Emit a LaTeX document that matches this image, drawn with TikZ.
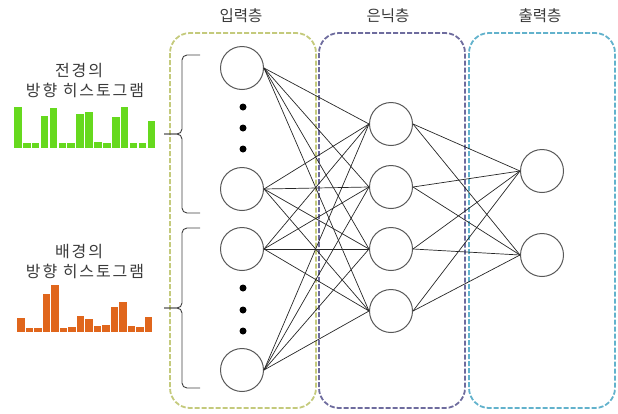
\documentclass[tikz,border=0pt]{standalone}
\usepackage{fontspec}
\newfontfamily\kor{Noto Sans CJK KR}
\newfontfamily\korwide[LetterSpace=12]{Noto Sans CJK KR}
\usetikzlibrary{positioning,calc}
\definecolor{inframe}{HTML}{C4CA7C}
\definecolor{hidframe}{HTML}{6E6C9E}
\definecolor{outframe}{HTML}{62B2CC}
\definecolor{fgbar}{HTML}{66D91E}
\definecolor{bgbar}{HTML}{E0661C}
\definecolor{labelgray}{HTML}{3A3A3A}

\begin{document}
\begin{tikzpicture}[x=1pt,y=-1pt] % pixel grid, y runs downwards
\tikzset{layerbox/.style={dash pattern=on 5pt off 2pt, line width=1.8pt, rounded corners=20pt}} % dashed layer frames
\tikzset{neuron/.style={circle, draw=black!65, fill=white, line width=1pt, minimum size=43pt, inner sep=0pt}}
\tikzset{wire/.style={draw=black!85, line width=0.7pt}} % connections between neurons
\tikzset{caption/.style={font=\kor\fontsize{15.5}{18}\selectfont, text=labelgray, inner sep=0pt}}
\tikzset{histname/.style={font=\korwide\fontsize{16}{19}\selectfont, text=labelgray, inner sep=0pt}}
\tikzset{brace/.style={draw=black!75, line width=0.9pt, rounded corners=5pt}}
\useasboundingbox (0,0) rectangle (618,413);

% layer frames and their titles
\draw[layerbox, draw=inframe] (170,33) rectangle (316,408);
\draw[layerbox, draw=hidframe] (319,33) rectangle (465,408);
\draw[layerbox, draw=outframe] (469,33) rectangle (615,408);
\node[caption] (tin) at (241,16) {입력층};
\node[caption] (thid) at (388,16) {은닉층};
\node[caption] (tout) at (540,16) {출력층};

% neurons
\node[neuron] (in1) at (242,68) {};
\node[neuron] (in2) at (242,189) {};
\node[neuron] (in3) at (242,249) {};
\node[neuron] (in4) at (242,370) {};
\foreach \y [count=\i] in {124,187,249,311}
  \node[neuron] (hid\i) at (391,\y) {};
\node[neuron] (out1) at (542,171) {};
\node[neuron] (out2) at (542,255) {};

% skipped inputs
\foreach \y [count=\i] in {107,128,149,288,310,331}
  \node[circle, fill=black, inner sep=0pt, minimum size=7pt] (dot\i) at (243,\y) {};

% full connections
\foreach \i in {1,...,4}
  \foreach \j in {1,...,4}
    \draw[wire] (in\i.east) -- (hid\j.west);
\foreach \j in {1,...,4}
  \foreach \k in {1,2}
    \draw[wire] (hid\j.east) -- (out\k.west);

% braces grouping the inputs
\coordinate (tipfg) at (164,134);
\coordinate (tipbg) at (164,308);
\draw[brace] (200,55) -| (182,134) -- (tipfg);
\draw[brace] (200,213) -| (182,134) -- (tipfg);
\draw[brace] (200,228) -| (182,308) -- (tipbg);
\draw[brace] (200,388) -| (182,308) -- (tipbg);

% foreground histogram
\node[histname] (fgname) at (79,71) {전경의};
\node[histname] (fgsub) at (85,90) {방향 히스토그램};
\foreach \h [count=\i from 0] in {41,5,5.5,32,40,5,5.5,34,36,6,5.5,31,41,5.5,5.5,27}
  \fill[fgbar] (14+8.9*\i,148) rectangle ++(7.6,-\h);

% background histogram
\node[histname] (bgname) at (79,252) {배경의};
\node[histname] (bgsub) at (85,271) {방향 히스토그램};
\foreach \h [count=\i from 0] in {14,4,4,38,47,3.5,5,16,12.5,6,7,25,30,6,5,15}
  \fill[bgbar] (17.3+8.5*\i,331.7) rectangle ++(7.3,-\h);
\end{tikzpicture}
\end{document}
